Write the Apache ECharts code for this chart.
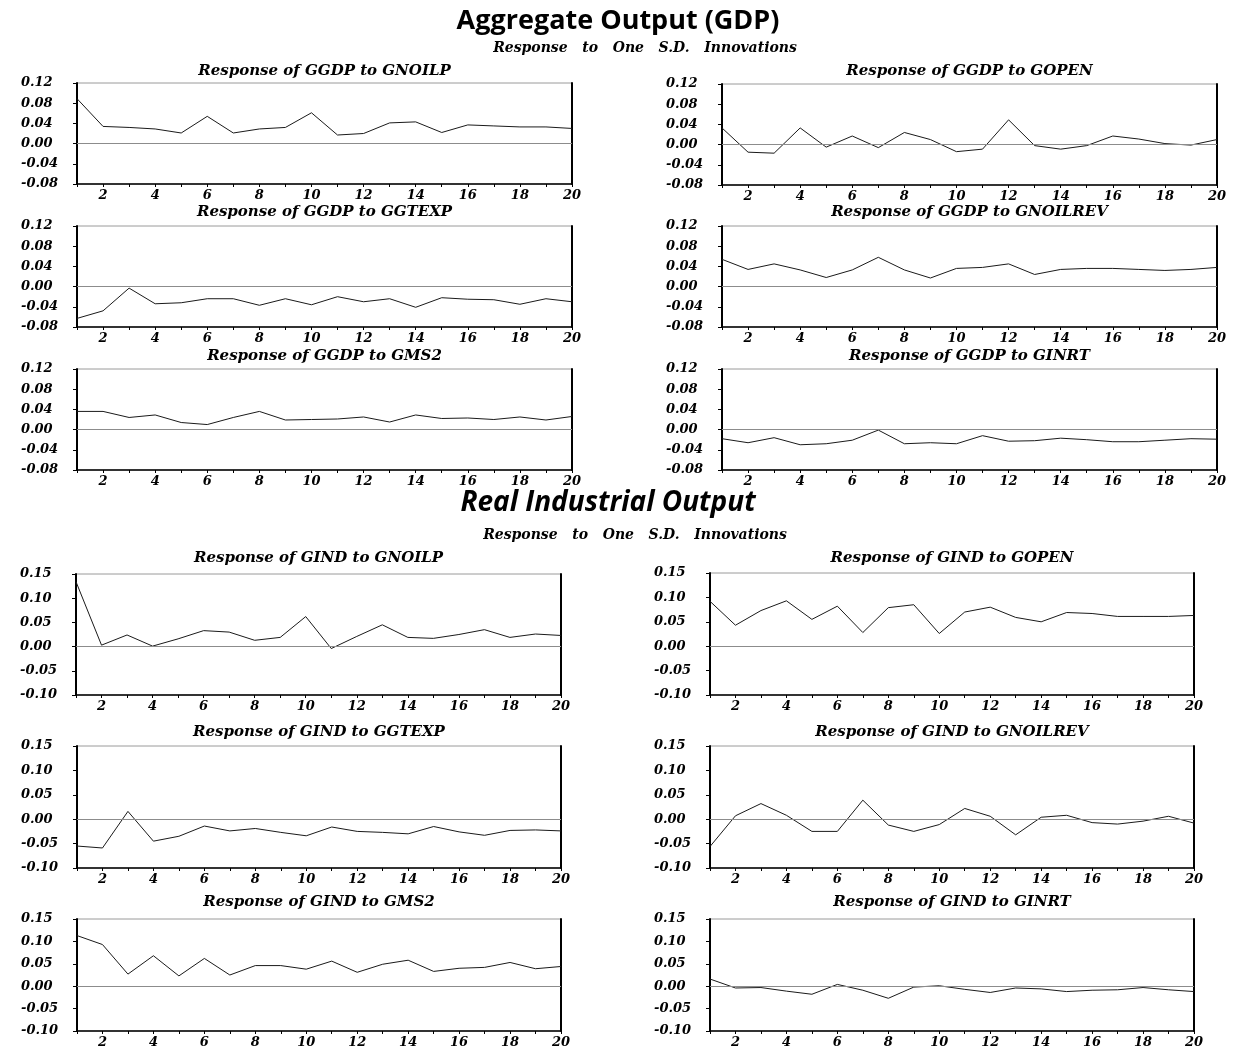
<!DOCTYPE html>
<html><head><meta charset="utf-8">
<script src="https://cdn.jsdelivr.net/npm/echarts/dist/echarts.min.js"></script>
<style>html,body{margin:0;padding:0;background:#fff}#c{width:1235px;height:1049px}</style>
</head><body><div id="c"></div>
<script>
// ---- data ----
const periods = [1,2,3,4,5,6,7,8,9,10,11,12,13,14,15,16,17,18,19,20];
const xTickLabels = [2,4,6,8,10,12,14,16,18,20];
const gdpTicks = [-0.08,-0.04,0.00,0.04,0.08,0.12];
const indTicks = [-0.10,-0.05,0.00,0.05,0.10,0.15];

const sectionTitles = ["Aggregate Output (GDP)", "Real Industrial Output"];
const sectionSubtitle = "Response   to   One   S.D.   Innovations";

const panelTitles = [
  "Response of GGDP to GNOILP", "Response of GGDP to GOPEN",
  "Response of GGDP to GGTEXP", "Response of GGDP to GNOILREV",
  "Response of GGDP to GMS2",   "Response of GGDP to GINRT",
  "Response of GIND to GNOILP", "Response of GIND to GOPEN",
  "Response of GIND to GGTEXP", "Response of GIND to GNOILREV",
  "Response of GIND to GMS2",   "Response of GIND to GINRT"
];

const ggdp_gnoilp   = [0.089,0.034,0.032,0.029,0.021,0.054,0.021,0.029,0.032,0.061,0.017,0.020,0.041,0.043,0.022,0.037,0.035,0.033,0.033,0.030];
const ggdp_gopen    = [0.033,-0.015,-0.017,0.033,-0.005,0.017,-0.006,0.024,0.010,-0.014,-0.009,0.049,-0.002,-0.009,-0.002,0.017,0.011,0.002,-0.001,0.010];
const ggdp_ggtexp   = [-0.063,-0.048,-0.003,-0.034,-0.032,-0.024,-0.024,-0.037,-0.024,-0.036,-0.020,-0.030,-0.024,-0.041,-0.022,-0.025,-0.026,-0.035,-0.024,-0.030];
const ggdp_gnoilrev = [0.054,0.034,0.045,0.033,0.018,0.033,0.058,0.033,0.017,0.036,0.038,0.045,0.024,0.034,0.036,0.036,0.034,0.032,0.034,0.038];
const ggdp_gms2     = [0.036,0.036,0.024,0.029,0.014,0.010,0.024,0.036,0.019,0.020,0.021,0.025,0.015,0.029,0.022,0.023,0.020,0.025,0.019,0.026];
const ggdp_ginrt    = [-0.018,-0.026,-0.016,-0.030,-0.028,-0.021,-0.001,-0.028,-0.026,-0.028,-0.012,-0.023,-0.022,-0.017,-0.020,-0.024,-0.024,-0.021,-0.018,-0.019];
const gind_gnoilp   = [0.134,0.003,0.024,0.001,0.016,0.033,0.030,0.013,0.019,0.062,-0.004,0.021,0.045,0.019,0.017,0.025,0.035,0.019,0.026,0.023];
const gind_gopen    = [0.092,0.043,0.073,0.093,0.055,0.082,0.028,0.079,0.085,0.026,0.070,0.080,0.059,0.050,0.069,0.067,0.061,0.061,0.061,0.063];
const gind_ggtexp   = [-0.055,-0.059,0.016,-0.045,-0.035,-0.014,-0.024,-0.019,-0.027,-0.034,-0.016,-0.025,-0.027,-0.030,-0.015,-0.026,-0.033,-0.023,-0.022,-0.024];
const gind_gnoilrev = [-0.056,0.007,0.032,0.008,-0.025,-0.025,0.039,-0.012,-0.025,-0.011,0.022,0.006,-0.032,0.004,0.008,-0.007,-0.010,-0.004,0.006,-0.008];
const gind_gms2     = [0.113,0.093,0.027,0.068,0.023,0.062,0.025,0.046,0.046,0.038,0.056,0.031,0.049,0.058,0.033,0.040,0.042,0.053,0.039,0.044];
const gind_ginrt    = [0.016,-0.004,-0.003,-0.011,-0.018,0.004,-0.009,-0.027,-0.002,0.001,-0.007,-0.014,-0.004,-0.006,-0.012,-0.009,-0.008,-0.003,-0.008,-0.012];

const panelData = [ggdp_gnoilp, ggdp_gopen, ggdp_ggtexp, ggdp_gnoilrev, ggdp_gms2, ggdp_ginrt,
                   gind_gnoilp, gind_gopen, gind_ggtexp, gind_gnoilrev, gind_gms2, gind_ginrt];

// ---- layout (pixels) ----
const layout = [
  {l:77, t:83, w:495, h:101, ty:71},  {l:722, t:84, w:495, h:101, ty:71},
  {l:77, t:226,w:495, h:101, ty:212}, {l:722, t:226,w:495, h:101, ty:212},
  {l:77, t:369,w:495, h:101, ty:356}, {l:722, t:369,w:495, h:101, ty:356},
  {l:76, t:574,w:485, h:121, ty:558}, {l:710, t:573,w:484, h:122, ty:558},
  {l:77, t:746,w:484, h:122, ty:732}, {l:710, t:746,w:484, h:122, ty:732},
  {l:77, t:919,w:484, h:120, ty:902}, {l:710, t:919,w:484, h:120, ty:902}
];

const serif = '"DejaVu Serif", "Liberation Serif", serif';
const grids = [], xAxes = [], yAxes = [], series = [], graphics = [];

panelData.forEach((vals, i) => {
  const L = layout[i];
  const ticks = i < 6 ? gdpTicks : indTicks;
  const step = Math.round((ticks[1] - ticks[0]) * 1000) / 1000;
  grids.push({left: L.l, top: L.t, width: L.w, height: L.h, show: true,
              borderColor: '#9a9a9a', borderWidth: 1, backgroundColor: 'transparent'});
  xAxes.push({
    type: 'value', gridIndex: i, min: periods[0], max: periods[periods.length - 1], interval: 1,
    axisLine: {show: true, onZero: false, lineStyle: {color: '#000', width: 1.5}},
    axisTick: {show: true, inside: false, length: 3, lineStyle: {color: '#000'}},
    splitLine: {show: false},
    axisLabel: {
      margin: 5, color: '#000', fontFamily: serif, fontStyle: 'italic', fontWeight: 'bold', fontSize: 13,
      formatter: v => xTickLabels.includes(v) ? String(v) : ''
    }
  });
  yAxes.push({
    type: 'value', gridIndex: i, min: ticks[0], max: ticks[ticks.length - 1], interval: step,
    axisLine: {show: true, lineStyle: {color: '#000', width: 2}},
    axisTick: {show: true, inside: false, length: 4, lineStyle: {color: '#000'}},
    splitLine: {show: false},
    axisLabel: {
      margin: 56, align: 'left', color: '#000', fontFamily: serif, fontStyle: 'italic',
      fontWeight: 'bold', fontSize: 13, padding: [0, 0, 6, 0],
      formatter: v => v.toFixed(2)
    }
  });
  yAxes.push({
    type: 'value', gridIndex: i, position: 'right', min: ticks[0], max: ticks[ticks.length - 1], interval: step,
    axisLine: {show: true, lineStyle: {color: '#000', width: 2}},
    axisTick: {show: false}, axisLabel: {show: false}, splitLine: {show: false}
  });
  series.push({
    type: 'line', xAxisIndex: i, yAxisIndex: 2 * i, symbol: 'none', smooth: false,
    lineStyle: {color: '#1a1a1a', width: 1},
    data: vals.map((v, k) => [periods[k], v]),
    markLine: {
      silent: true, symbol: ['none', 'none'], label: {show: false},
      lineStyle: {color: '#8c8c8c', width: 1, type: 'solid'},
      data: [{yAxis: 0}]
    },
    animation: false
  });
  graphics.push({
    type: 'text', x: L.l + L.w / 2, y: L.ty,
    style: {text: panelTitles[i], fill: '#000', font: 'italic bold 15px ' + serif,
            textAlign: 'center', textVerticalAlign: 'middle', align: 'center', verticalAlign: 'middle'}
  });
});

graphics.push({type: 'text', x: 618, y: 21,
  style: {text: sectionTitles[0], fill: '#000', font: 'bold 27px "Open Sans", sans-serif',
          textAlign: 'center', textVerticalAlign: 'middle', align: 'center', verticalAlign: 'middle'}});
graphics.push({type: 'text', x: 645, y: 48,
  style: {text: sectionSubtitle, fill: '#000', font: 'italic bold 14px ' + serif,
          textAlign: 'center', textVerticalAlign: 'middle', align: 'center', verticalAlign: 'middle'}});
graphics.push({type: 'text', x: 608, y: 503,
  style: {text: sectionTitles[1], fill: '#000', font: 'italic bold 28px "Open Sans", sans-serif',
          textAlign: 'center', textVerticalAlign: 'middle', align: 'center', verticalAlign: 'middle'}});
graphics.push({type: 'text', x: 635, y: 535,
  style: {text: sectionSubtitle, fill: '#000', font: 'italic bold 14px ' + serif,
          textAlign: 'center', textVerticalAlign: 'middle', align: 'center', verticalAlign: 'middle'}});

const chart = echarts.init(document.getElementById('c'), null, {renderer: 'canvas'});
chart.setOption({
  backgroundColor: '#fff',
  animation: false,
  grid: grids, xAxis: xAxes, yAxis: yAxes, series: series,
  graphic: {elements: graphics}
});
</script></body></html>
